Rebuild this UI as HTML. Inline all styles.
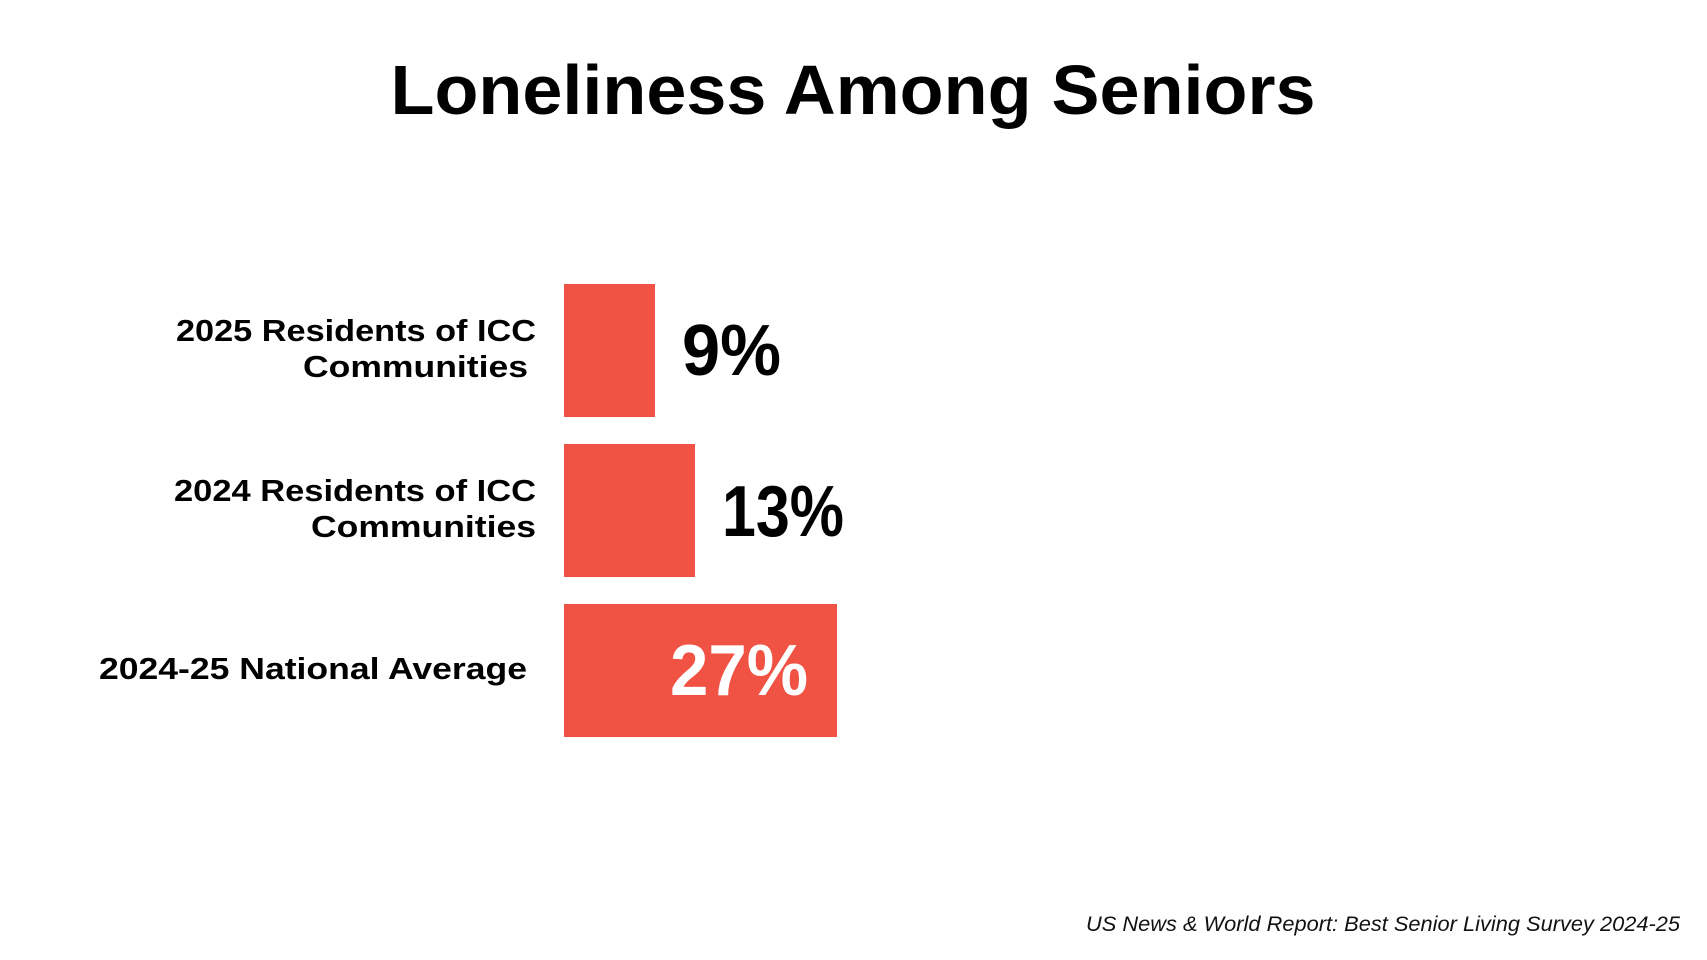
<!DOCTYPE html>
<html><head><meta charset="utf-8"><style>
html,body{margin:0;padding:0;background:#fff;}
svg{display:block;}
</style></head><body>
<svg width="1707" height="960" viewBox="0 0 1707 960" xmlns="http://www.w3.org/2000/svg" font-family="Liberation Sans, sans-serif">
<rect width="1707" height="960" fill="#fff"/>
<text x="853" y="114" text-anchor="middle" font-size="70" font-weight="bold" fill="#000" textLength="925" lengthAdjust="spacingAndGlyphs">Loneliness Among Seniors</text>
<rect x="564" y="284" width="91" height="133" fill="#f05344"/>
<rect x="564" y="444" width="131" height="133" fill="#f05344"/>
<rect x="564" y="604" width="273" height="133" fill="#f05344"/>
<g font-size="31" font-weight="bold" fill="#000" text-anchor="end">
<text x="536" y="341" textLength="360" lengthAdjust="spacingAndGlyphs">2025 Residents of ICC</text>
<text x="528" y="377" textLength="225" lengthAdjust="spacingAndGlyphs">Communities</text>
<text x="536" y="501" textLength="362" lengthAdjust="spacingAndGlyphs">2024 Residents of ICC</text>
<text x="536" y="537" textLength="225" lengthAdjust="spacingAndGlyphs">Communities</text>
<text x="527" y="679" textLength="428" lengthAdjust="spacingAndGlyphs">2024-25 National Average</text>
</g>
<g font-size="72" font-weight="bold">
<text x="682" y="375" fill="#000" textLength="99" lengthAdjust="spacingAndGlyphs">9%</text>
<text x="722" y="536" fill="#000" textLength="122" lengthAdjust="spacingAndGlyphs">13%</text>
<text x="670" y="695" fill="#fff" textLength="138" lengthAdjust="spacingAndGlyphs">27%</text>
</g>
<text x="1680" y="931" text-anchor="end" font-size="21" font-style="italic" fill="#111" textLength="594" lengthAdjust="spacingAndGlyphs">US News &amp; World Report: Best Senior Living Survey 2024-25</text>
</svg>
</body></html>
